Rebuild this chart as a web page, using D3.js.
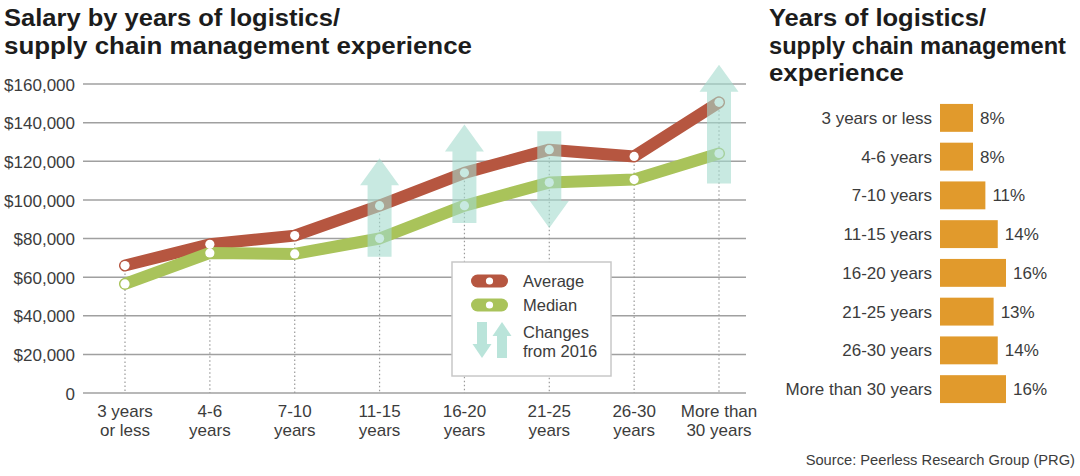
<!DOCTYPE html>
<html>
<head>
<meta charset="utf-8">
<script src="https://cdn.jsdelivr.net/npm/d3@7"></script>
<style>
  body { margin: 0; background: #fff; }
  svg { display: block; font-family: "Liberation Sans", Arial, Helvetica, sans-serif; }
</style>
</head>
<body>
<div id="chart"></div>
<script>
// Salary chart data
const categories = ['3 years or less', '4-6 years', '7-10 years', '11-15 years',
  '16-20 years', '21-25 years', '26-30 years', 'More than 30 years'];
const xLabels = [['3 years', 'or less'], ['4-6', 'years'], ['7-10', 'years'], ['11-15', 'years'],
  ['16-20', 'years'], ['21-25', 'years'], ['26-30', 'years'], ['More than', '30 years']];
const averageSalary = [66000, 77000, 81500, 97000, 114000, 126000, 122500, 150500];
const medianSalary = [56500, 72500, 72000, 80000, 97000, 109000, 110500, 124000];
const yTicks = [0, 20000, 40000, 60000, 80000, 100000, 120000, 140000, 160000];

// Changes from 2016: arrow from -> to (salary values)
const changeArrows = [
  { cat: '11-15 years', from: 70500, to: 121500 },
  { cat: '16-20 years', from: 88000, to: 139000 },
  { cat: '21-25 years', from: 135500, to: 85500 },
  { cat: 'More than 30 years', from: 108500, to: 170000 }
];

// Share of respondents by experience
const shareLabels = categories;
const shareValues = [8, 8, 11, 14, 16, 13, 14, 16];

const colors = {
  average: '#b65640',
  median: '#a9c35a',
  arrow: '#a3dbcd',
  bar: '#e19a2c',
  grid: '#a0a0a0',
  text: '#3c3c3c',
  title: '#1c1c1c'
};

const svg = d3.select('#chart').append('svg')
  .attr('width', 1080)
  .attr('height', 476);

// ---- Titles ----
// [text, x, baseline y, rendered width]
const titleLines = [
  ['Salary by years of logistics/', 4, 26, 336],
  ['supply chain management experience', 4, 54, 468],
  ['Years of logistics/', 769, 26, 217],
  ['supply chain management', 769, 53.5, 297],
  ['experience', 769, 81, 135]
];
svg.append('g')
  .selectAll('text')
  .data(titleLines)
  .join('text')
  .attr('x', d => d[1])
  .attr('y', d => d[2])
  .attr('textLength', d => d[3])
  .attr('lengthAdjust', 'spacingAndGlyphs')
  .attr('fill', colors.title)
  .attr('font-size', '23px')
  .attr('font-weight', 'bold')
  .text(d => d[0]);

// ---- Line chart ----
const x = d3.scalePoint().domain(categories).range([125, 719]);
const y = d3.scaleLinear().domain([0, 160000]).range([393, 84]);
const gridX0 = 83, gridX1 = 746;

const lineChart = svg.append('g');

// gridlines
lineChart.append('g')
  .selectAll('line')
  .data(yTicks)
  .join('line')
  .attr('x1', gridX0).attr('x2', gridX1)
  .attr('y1', d => y(d)).attr('y2', d => y(d))
  .attr('stroke', colors.grid)
  .attr('stroke-width', 1.5);

// y axis labels
const yAxis = d3.axisLeft(y)
  .tickValues(yTicks)
  .tickSize(0)
  .tickPadding(0)
  .tickFormat(d => d === 0 ? '0' : '$' + d3.format(',')(d));
const yAxisG = lineChart.append('g')
  .attr('transform', 'translate(75,0)')
  .call(yAxis);
yAxisG.select('.domain').remove();
yAxisG.selectAll('text')
  .attr('fill', colors.text)
  .attr('font-size', '17px')
  .attr('font-family', '"Liberation Sans", Arial, sans-serif')
  .attr('dy', '0.36em');

// dotted drop lines
lineChart.append('g')
  .selectAll('line')
  .data(categories)
  .join('line')
  .attr('x1', d => x(d)).attr('x2', d => x(d))
  .attr('y1', (d, i) => y(averageSalary[i]))
  .attr('y2', y(0))
  .attr('stroke', '#9a9a9a')
  .attr('stroke-width', 1.2)
  .attr('stroke-dasharray', '1.5,2.5');

// x labels
const xLab = lineChart.append('g')
  .selectAll('text')
  .data(categories)
  .join('text')
  .attr('text-anchor', 'middle')
  .attr('fill', colors.text)
  .attr('font-size', '17px');
xLab.append('tspan')
  .attr('x', d => x(d)).attr('y', 417)
  .text((d, i) => xLabels[i][0]);
xLab.append('tspan')
  .attr('x', d => x(d)).attr('y', 436)
  .text((d, i) => xLabels[i][1]);

// salary lines
const line = d3.line()
  .x((d, i) => x(categories[i]))
  .y(d => y(d));

[[averageSalary, colors.average], [medianSalary, colors.median]].forEach(([vals, col]) => {
  lineChart.append('path')
    .datum(vals)
    .attr('d', line)
    .attr('fill', 'none')
    .attr('stroke', col)
    .attr('stroke-width', 12)
    .attr('stroke-linejoin', 'round')
    .attr('stroke-linecap', 'round');
});

// points
[averageSalary, medianSalary].forEach(vals => {
  lineChart.append('g')
    .selectAll('circle')
    .data(vals)
    .join('circle')
    .attr('cx', (d, i) => x(categories[i]))
    .attr('cy', d => y(d))
    .attr('r', 4.6)
    .attr('fill', '#fff');
});

// change arrows (semi-transparent, drawn over lines)
const bodyW = 24, headW = 39, headL = 27;
function arrowPath(cx, yFrom, yTo) {
  const dir = yTo < yFrom ? -1 : 1;
  const base = yTo - dir * headL;
  return `M${cx - bodyW / 2},${yFrom} L${cx - bodyW / 2},${base} L${cx - headW / 2},${base} ` +
    `L${cx},${yTo} L${cx + headW / 2},${base} L${cx + bodyW / 2},${base} L${cx + bodyW / 2},${yFrom} Z`;
}
lineChart.append('g')
  .selectAll('path')
  .data(changeArrows)
  .join('path')
  .attr('d', d => arrowPath(x(d.cat), y(d.from), y(d.to)))
  .attr('fill', colors.arrow)
  .attr('opacity', 0.6);

// ---- Legend ----
const legend = svg.append('g').attr('transform', 'translate(452,262)');
legend.append('rect')
  .attr('width', 159).attr('height', 114)
  .attr('fill', '#fff')
  .attr('stroke', '#c8c8c8')
  .attr('stroke-width', 1.5);

[['Average', colors.average, 19], ['Median', colors.median, 43]].forEach(([label, col, cy]) => {
  legend.append('rect')
    .attr('x', 19).attr('y', cy - 6.5)
    .attr('width', 37).attr('height', 13)
    .attr('rx', 6.5)
    .attr('fill', col);
  legend.append('circle')
    .attr('cx', 37.5).attr('cy', cy)
    .attr('r', 3.6)
    .attr('fill', '#fff');
  legend.append('text')
    .attr('x', 71).attr('y', cy + 5.5)
    .attr('fill', colors.text)
    .attr('font-size', '16.5px')
    .text(label);
});

function smallArrow(cx, yFrom, yTo) {
  const bw = 10, hw = 19, hl = 14;
  const dir = yTo < yFrom ? -1 : 1;
  const base = yTo - dir * hl;
  return `M${cx - bw / 2},${yFrom} L${cx - bw / 2},${base} L${cx - hw / 2},${base} ` +
    `L${cx},${yTo} L${cx + hw / 2},${base} L${cx + bw / 2},${base} L${cx + bw / 2},${yFrom} Z`;
}
legend.append('path').attr('d', smallArrow(30, 60, 96)).attr('fill', colors.arrow).attr('opacity', 0.75);
legend.append('path').attr('d', smallArrow(50, 96, 60)).attr('fill', colors.arrow).attr('opacity', 0.75);
const chg = legend.append('text')
  .attr('fill', colors.text)
  .attr('font-size', '16.5px');
chg.append('tspan').attr('x', 71).attr('y', 76).text('Changes');
chg.append('tspan').attr('x', 71).attr('y', 95).text('from 2016');

// ---- Bar chart ----
const by = d3.scaleBand().domain(shareLabels).range([98.5, 408.5]).paddingInner(0.28).paddingOuter(0.14);
const bx = d3.scaleLinear().domain([0, 16]).range([940, 1006]);

const bars = svg.append('g');
bars.selectAll('rect')
  .data(shareValues)
  .join('rect')
  .attr('x', bx(0))
  .attr('y', (d, i) => by(shareLabels[i]))
  .attr('width', d => bx(d) - bx(0))
  .attr('height', by.bandwidth())
  .attr('fill', colors.bar);

bars.selectAll('text.cat')
  .data(shareLabels)
  .join('text')
  .attr('class', 'cat')
  .attr('x', 932)
  .attr('y', d => by(d) + by.bandwidth() / 2)
  .attr('dy', '0.36em')
  .attr('text-anchor', 'end')
  .attr('fill', colors.text)
  .attr('font-size', '17px')
  .text(d => d);

bars.selectAll('text.val')
  .data(shareValues)
  .join('text')
  .attr('class', 'val')
  .attr('x', d => bx(d) + 7)
  .attr('y', (d, i) => by(shareLabels[i]) + by.bandwidth() / 2)
  .attr('dy', '0.36em')
  .attr('fill', colors.text)
  .attr('font-size', '17px')
  .text(d => d + '%');

// source
svg.append('text')
  .attr('x', 1075).attr('y', 465)
  .attr('text-anchor', 'end')
  .attr('fill', colors.text)
  .attr('font-size', '14.7px')
  .text('Source: Peerless Research Group (PRG)');
</script>
</body>
</html>
